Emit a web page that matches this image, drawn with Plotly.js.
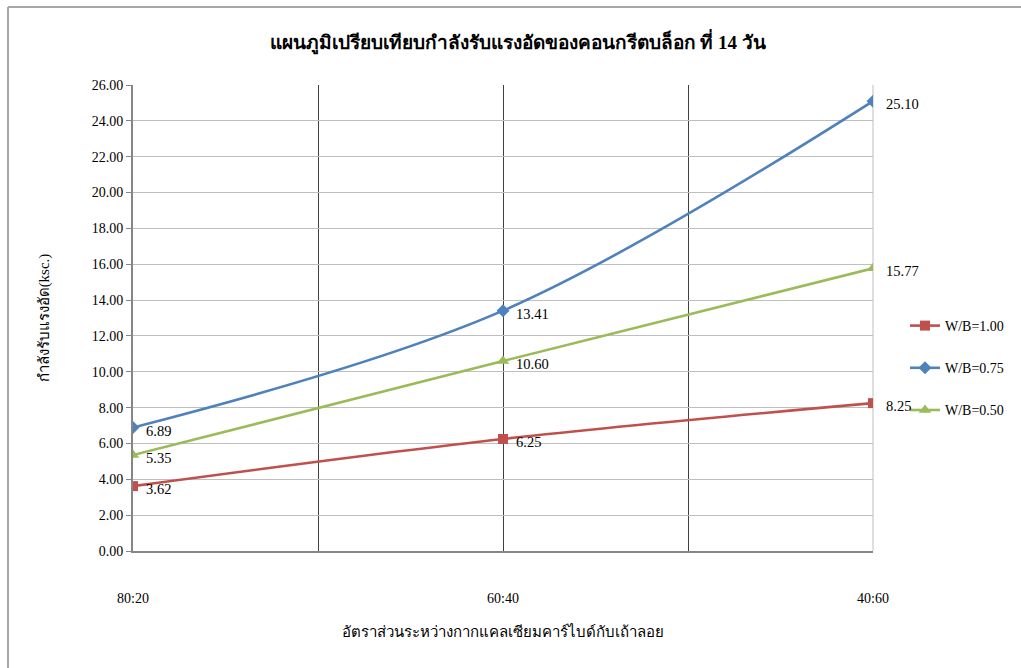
<!DOCTYPE html>
<html>
<head>
<meta charset="utf-8">
<script src="https://cdn.plot.ly/plotly-3.0.1.min.js"></script>
<style>html,body{margin:0;padding:0;background:#fff;}#chart{width:1021px;height:668px;}</style>
</head>
<body>
<div id="chart"></div>
<script>
const categories = ["80:20", "60:40", "40:60"];
const seriesNames = ["W/B=1.00", "W/B=0.75", "W/B=0.50"];
const wb100 = [3.62, 6.25, 8.25];
const wb075 = [6.89, 13.41, 25.10];
const wb050 = [5.35, 10.60, 15.77];
const titleText = "แผนภูมิเปรียบเทียบกำลังรับแรงอัดของคอนกรีตบล็อก ที่ 14 วัน";
const xTitle = "อัตราส่วนระหว่างกากแคลเซียมคาร์ไบด์กับเถ้าลอย";
const yTitle = "กำลังรับแรงอัด(ksc.)";

const serif = "Liberation Serif, serif";
const xPos = categories.map((c, i) => i);
const allSeries = [wb100, wb075, wb050];
const colors = ["#C0504D", "#4F81BD", "#9BBB59"];
const symbols = ["square", "diamond", "triangle-up"];
const msizes = [10, 10, 11];

const traces = allSeries.map((vals, k) => ({
  type: "scatter",
  mode: "lines+markers",
  x: xPos,
  y: vals,
  name: seriesNames[k],
  legendgroup: "g" + k,
  line: {color: colors[k], width: 2.6, shape: "spline", smoothing: 1},
  marker: {color: colors[k], symbol: symbols[k], size: msizes[k]},
  hoverinfo: "skip"
}));

const annotations = [];
allSeries.forEach((vals, k) => {
  vals.forEach((v, i) => {
    annotations.push({
      x: xPos[i], y: v, xref: "x", yref: "y",
      text: v.toFixed(2), showarrow: false,
      xanchor: "left", yanchor: "middle",
      xshift: 11, yshift: -3,
      font: {family: serif, size: 14.5, color: "#000"}
    });
  });
});

const L = 133, R = 873, T = 85, B = 551;
const px = p => (p - L) / (R - L);
const py = p => (B - p) / (B - T);

const layout = {
  width: 1021, height: 668,
  margin: {l: L, r: 1021 - R, t: T, b: 668 - B},
  paper_bgcolor: "#fff", plot_bgcolor: "#fff",
  font: {family: serif, size: 14, color: "#000"},
  title: {text: "<b>" + titleText + "</b>", x: 0.507, xanchor: "center", y: 1 - 42 / 668, yanchor: "middle",
          font: {family: serif, size: 19, color: "#000"}},
  xaxis: {
    range: [0, 2],
    tickvals: [0, 0.5, 1, 1.5, 2],
    ticktext: [categories[0], "", categories[1], "", categories[2]],
    showgrid: true, gridcolor: "#404040", gridwidth: 1,
    showline: true, linecolor: "#868686", linewidth: 2,
    ticks: "", ticklabelstandoff: 33,
    zeroline: false,
    tickfont: {family: serif, size: 14, color: "#000"},
    title: {text: xTitle, font: {family: serif, size: 15, color: "#000"}, standoff: 22},
    fixedrange: true
  },
  yaxis: {
    range: [0, 26], dtick: 2, tick0: 0, tickformat: ".2f",
    showgrid: true, gridcolor: "#bfbfbf", gridwidth: 1,
    showline: true, linecolor: "#868686", linewidth: 2,
    ticks: "outside", ticklen: 5, tickcolor: "#868686",
    zeroline: false,
    tickfont: {family: serif, size: 14, color: "#000"},
    title: {text: yTitle, font: {family: serif, size: 15, color: "#000"}, standoff: 38},
    fixedrange: true
  },
  legend: {
    x: px(905), y: py(310), xanchor: "left", yanchor: "top",
    font: {family: serif, size: 14, color: "#000"},
    tracegroupgap: 21, itemwidth: 30,
    bgcolor: "rgba(0,0,0,0)"
  },
  showlegend: true,
  annotations: annotations,
  shapes: [
    {type: "line", xref: "paper", yref: "paper", x0: px(8), x1: px(1030), y0: py(7), y1: py(7), line: {color: "#a6a6a6", width: 2}},
    {type: "line", xref: "paper", yref: "paper", x0: px(8), x1: px(8), y0: py(7), y1: py(680), line: {color: "#a6a6a6", width: 2}},
    {type: "line", xref: "paper", yref: "paper", x0: 1, x1: 1, y0: 0, y1: 1, line: {color: "#bfbfbf", width: 1}, layer: "below"}
  ]
};

Plotly.newPlot("chart", traces, layout, {displayModeBar: false, staticPlot: true});
</script>
</body>
</html>
